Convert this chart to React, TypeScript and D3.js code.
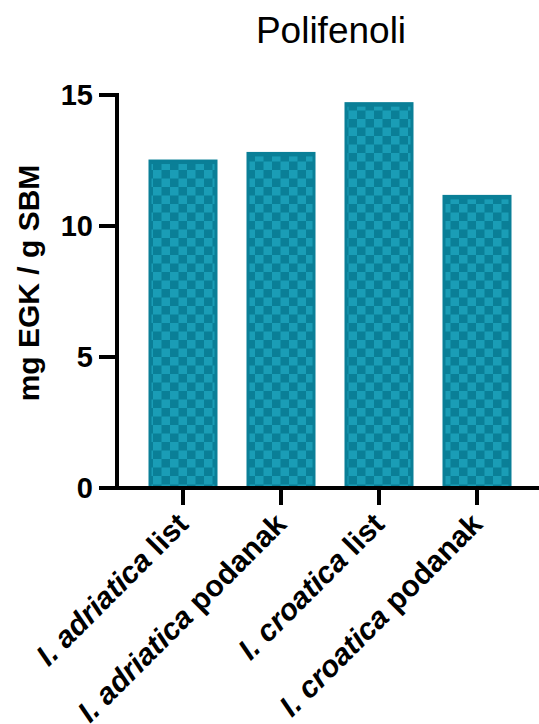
import React from "react";
import * as d3 from "d3";

const categories = ["I. adriatica list", "I. adriatica podanak", "I. croatica list", "I. croatica podanak"];
const italicParts = ["I. adriatica", "I. adriatica", "I. croatica", "I. croatica"];
const plainParts = [" list", " podanak", " list", " podanak"];
const values = [12.48, 12.77, 14.67, 11.13];
const yTicks = [0, 5, 10, 15];
const title = "Polifenoli";
const yLabel = "mg EGK / g SBM";

const W = 539, H = 724;
const FONT = "Liberation Sans, Arial, Helvetica, sans-serif";
const DARK = "#0a7f97";
const LIGHT = "#1a9db6";

export default function App() {
  const y = d3.scaleLinear().domain([0, 15]).range([488, 95]);
  const x = d3.scaleBand<string>().domain(categories).range([134, 526]).padding(0);
  const barW = 66;
  const axisX = 117;
  const y0 = y(0);
  return (
    <svg width={W} height={H} style={{ position: "absolute", left: 0, top: 0, background: "#fff" }}>
      <defs>
        <pattern id="chk" patternUnits="userSpaceOnUse" width={17} height={17}>
          <rect width={17} height={17} fill={DARK} />
          <rect x={0} y={0} width={8.5} height={8.5} fill={LIGHT} />
          <rect x={8.5} y={8.5} width={8.5} height={8.5} fill={LIGHT} />
        </pattern>
      </defs>
      <text x={331} y={43} textAnchor="middle" fontFamily={FONT} fontSize={37} fill="#000">{title}</text>
      <text transform={`translate(39,${283}) rotate(-90)`} textAnchor="middle" fontFamily={FONT} fontSize={30} fontWeight="bold" fill="#000">{yLabel}</text>
      {categories.map((c, i) => {
        const cx = (x(c) as number) + x.bandwidth() / 2;
        const top = y(values[i]);
        return (
          <g key={c}>
            <rect x={cx - barW / 2} y={top} width={barW} height={y0 - top} fill="url(#chk)" stroke={DARK} strokeWidth={3} />
            <rect x={cx - barW / 2} y={top} width={barW} height={3} fill={DARK} />
          </g>
        );
      })}
      {/* y axis */}
      <line x1={axisX} x2={axisX} y1={y(15) - 2} y2={y0 + 2} stroke="#000" strokeWidth={4} />
      {yTicks.map((t) => (
        <g key={t}>
          <line x1={axisX - 18} x2={axisX} y1={y(t)} y2={y(t)} stroke="#000" strokeWidth={4} />
          <text x={axisX - 24} y={y(t)} dy="0.36em" textAnchor="end" fontFamily={FONT} fontSize={29} fontWeight="bold" fill="#000">{t}</text>
        </g>
      ))}
      {/* x axis */}
      <line x1={axisX - 2} x2={W} y1={y0} y2={y0} stroke="#000" strokeWidth={4} />
      {categories.map((c, i) => {
        const cx = (x(c) as number) + x.bandwidth() / 2;
        return (
          <g key={"t" + c}>
            <line x1={cx} x2={cx} y1={y0} y2={y0 + 17} stroke="#000" strokeWidth={4} />
            <text transform={`translate(${cx + 7},${y0 + 38}) rotate(-45)`} textAnchor="end" fontFamily={FONT} fontSize={30} fontWeight="bold" fill="#000">
              <tspan fontStyle="italic">{italicParts[i]}</tspan>
              <tspan>{plainParts[i]}</tspan>
            </text>
          </g>
        );
      })}
    </svg>
  );
}
